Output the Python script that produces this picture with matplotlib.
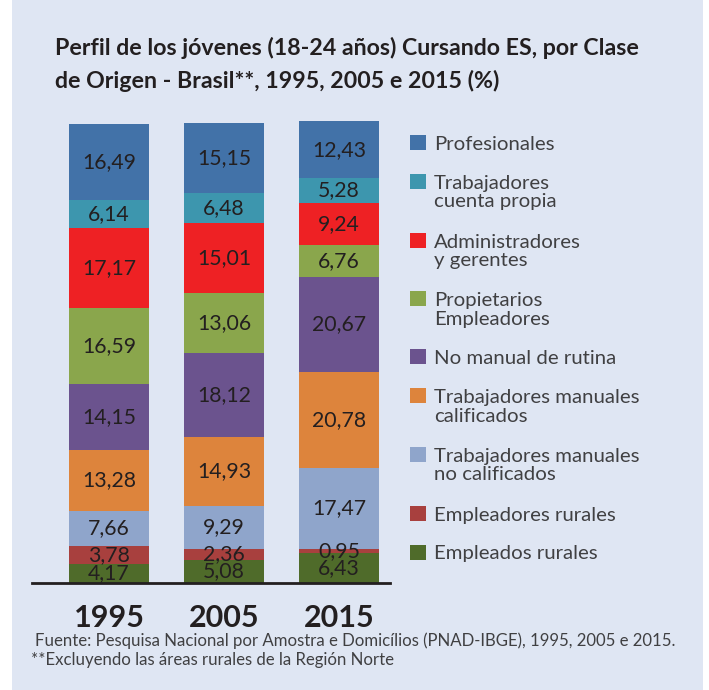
"""Perfil de los jóvenes cursando ES por clase de origen - Brasil."""

import matplotlib

matplotlib.use("Agg")
import matplotlib.pyplot as plt
from matplotlib.patches import Rectangle

# ---- data (bottom -> top of each stacked bar) ----
years = ["1995", "2005", "2015"]
categories = [
    "Empleados rurales",
    "Empleadores rurales",
    "Trabajadores manuales\nno calificados",
    "Trabajadores manuales\ncalificados",
    "No manual de rutina",
    "Propietarios\nEmpleadores",
    "Administradores\ny gerentes",
    "Trabajadores\ncuenta propia",
    "Profesionales",
]
values_1995 = [4.17, 3.78, 7.66, 13.28, 14.15, 16.59, 17.17, 6.14, 16.49]
values_2005 = [5.08, 2.36, 9.29, 14.93, 18.12, 13.06, 15.01, 6.48, 15.15]
values_2015 = [6.43, 0.95, 17.47, 20.78, 20.67, 6.76, 9.24, 5.28, 12.43]
colors = [
    "#4f6b2a",
    "#a8403e",
    "#8fa5cb",
    "#dd843c",
    "#6b538e",
    "#8aa64c",
    "#ee2124",
    "#3d96ae",
    "#4272a8",
]
title_lines = ["Perfil de los jóvenes (18-24 años) Cursando ES, por Clase",
               "de Origen - Brasil**, 1995, 2005 e 2015 (%)"]
footnote_lines = ["Fuente: Pesquisa Nacional por Amostra e Domicílios (PNAD-IBGE), 1995, 2005 e 2015.",
                  "**Excluyendo las áreas rurales de la Región Norte"]

BG = "#dfe6f3"
INK = "#231f20"
GREY = "#404042"
W, H = 709, 690

plt.rcParams["font.family"] = ["Lato", "DejaVu Sans"]

fig = plt.figure(figsize=(W / 100, H / 100), dpi=100, facecolor="white")
fig.patches.append(Rectangle((12 / W, 0), 691 / W, 1, transform=fig.transFigure,
                             facecolor=BG, edgecolor="none", zorder=-5))


def px(x, y):
    """Pixel position (from top-left) to figure coords."""
    return x / W, 1 - y / H


# axes: x from 32px to 390px, y baseline at 583px, top at 121px
ax = fig.add_axes([32 / W, 1 - 583 / H, 358 / W, 462 / H])
ax.set_facecolor("none")
ax.set_xlim(-0.67, 2.443)
ax.set_ylim(0, 100)

series = [values_1995, values_2005, values_2015]
for i, vals in enumerate(series):
    bottom = 0.0
    for v, c in zip(vals, colors):
        ax.bar(i, v, bottom=bottom, width=0.695, color=c, linewidth=0, zorder=2)
        ax.text(i, bottom + v / 2, f"{v:.2f}".replace(".", ","), ha="center",
                va="center", fontsize=15.3, color=INK, zorder=3)
        bottom += v

for side in ["top", "right", "left"]:
    ax.spines[side].set_visible(False)
ax.spines["bottom"].set_linewidth(2)
ax.spines["bottom"].set_color(INK)
ax.spines["bottom"].set_zorder(4)
ax.set_yticks([])
ax.set_xticks(range(len(years)))
ax.set_xticklabels(years, fontsize=22, fontweight="bold", color=INK)
ax.tick_params(axis="x", length=0, pad=15)

# title, one text per line so each baseline is placed exactly
for k, line in enumerate(title_lines):
    fig.text(*px(55, 55 + 33 * k), line, ha="left", va="baseline", fontsize=16.7,
             fontweight="bold", color=INK)

# legend, top entry first
y = 142.5
for name, c in zip(categories[::-1], colors[::-1]):
    fig.patches.append(Rectangle(px(410, y + 7.5), 16 / W, 15 / H, transform=fig.transFigure,
                                 facecolor=c, edgecolor="none"))
    lines = name.split("\n")
    for k, line in enumerate(lines):
        fig.text(*px(434, y + 7.5 + 18.5 * k), line, ha="left", va="baseline",
                 fontsize=14.7, color=GREY)
    y += 39 + 19.5 * (len(lines) - 1)

# footnote
for k, line in enumerate(footnote_lines):
    fig.text(*px(35 - 4 * k, 646 + 19 * k), line, ha="left", va="baseline", fontsize=12.1,
             color=GREY)

fig.savefig("out.png", dpi=100, facecolor=fig.get_facecolor())
